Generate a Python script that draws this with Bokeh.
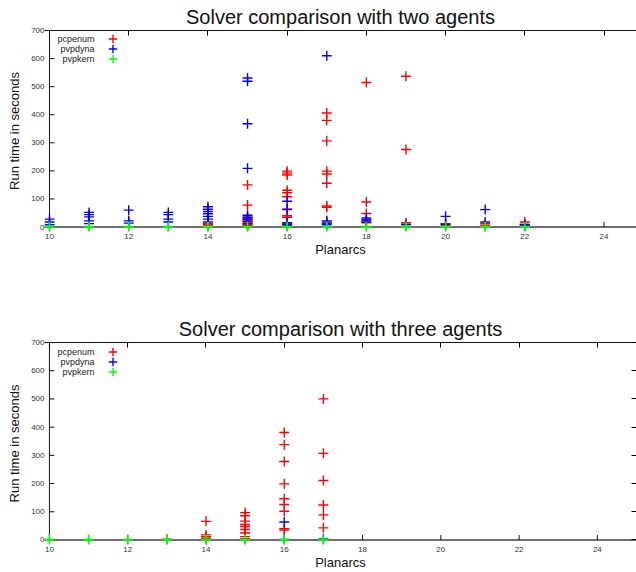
import math

from bokeh.embed import file_html
from bokeh.layouts import column
from bokeh.models import (CustomJSTickFormatter, FixedTicker, Label, Legend,
                          LegendItem, LinearAxis, Range1d, Span)
from bokeh.plotting import figure
from bokeh.resources import INLINE

FONT = "Liberation Sans"

# Planarcs tick positions and run-time ticks
x_ticks = [10, 12, 14, 16, 18, 20, 22, 24]
y_ticks = [0, 100, 200, 300, 400, 500, 600, 700]
X_MIN = 10

# ---- two agents -------------------------------------------------------
two_pcpenum_x = [14, 14, 14,
                 15, 15, 15, 15, 15, 15, 15, 15, 15, 15, 15,
                 16, 16, 16, 16, 16, 16, 16, 16, 16, 16, 16,
                 17, 17, 17, 17, 17, 17, 17, 17, 17, 17,
                 18, 18, 18, 18, 18,
                 19, 19, 19, 19,
                 20, 20,
                 21, 21,
                 22, 22, 22]
two_pcpenum_y = [12, 8, 4,
                 150, 78, 35, 30, 26, 22, 18, 14, 10, 6, 3,
                 199, 192, 185, 131, 122, 108, 64, 40, 35, 12, 5,
                 406, 380, 307, 199, 189, 156, 75, 70, 18, 12,
                 515, 89, 48, 22, 15,
                 537, 276, 15, 10,
                 12, 6,
                 12, 6,
                 18, 10, 5]

two_pvpdyna_x = [10, 10, 10,
                 11, 11, 11, 11, 11,
                 12, 12, 12,
                 13, 13, 13, 13,
                 14, 14, 14, 14, 14, 14, 14,
                 15, 15, 15, 15, 15, 15, 15, 15, 15,
                 16, 16, 16, 16,
                 17, 17, 17, 17,
                 18, 18, 18,
                 19,
                 20, 20,
                 21, 21,
                 22, 22]
two_pvpdyna_y = [28, 18, 8,
                 52, 44, 36, 22, 12,
                 60, 22, 14,
                 52, 44, 28, 18,
                 72, 63, 55, 47, 38, 28, 18,
                 531, 519, 368, 209, 42, 35, 28, 20, 12,
                 92, 62, 15, 8,
                 610, 22, 14, 8,
                 32, 26, 18,
                 8,
                 38, 10,
                 62, 18,
                 8, 4]

two_pvpkern_x = [10, 10, 11, 11, 12, 12, 13, 13, 14, 14, 15, 15, 16, 16,
                 17, 17, 18, 18, 19, 19, 20, 20, 21, 21, 22, 22]
two_pvpkern_y = [0, 2, 0, 2, 0, 2, 0, 2, 0, 2, 0, 2, 0, 2,
                 0, 2, 0, 2, 0, 2, 0, 2, 0, 2, 0, 2]

# ---- three agents -----------------------------------------------------
three_pcpenum_x = [13,
                   14, 14, 14, 14, 14,
                   15, 15, 15, 15, 15, 15, 15, 15, 15,
                   16, 16, 16, 16, 16, 16, 16, 16, 16,
                   17, 17, 17, 17, 17, 17]
three_pcpenum_y = [3,
                   66, 18, 12, 6, 2,
                   97, 86, 67, 55, 48, 37, 25, 12, 5,
                   381, 338, 278, 199, 146, 126, 102, 40, 35,
                   500, 307, 211, 124, 89, 43]

three_pvpdyna_x = [16, 16, 17]
three_pvpdyna_y = [64, 2, 4]

three_pvpkern_x = [10, 10, 11, 11, 12, 12, 13, 13, 14, 14, 15, 15,
                   16, 16, 17, 17]
three_pvpkern_y = [0, 2, 0, 2, 0, 2, 0, 2, 0, 2, 0, 2,
                   0, 2, 0, 2]

series_names = ["pcpenum", "pvpdyna", "pvpkern"]
series_colors = ["#ff0000", "#0000ff", "#00ff00"]

FRAME_H = 202
PAD = 5  # pixels of room left of x=10 so edge points are not cut off


def make_panel(title, xs_list, ys_list, x_start, x_end, border_left, border_top,
               border_bottom, right_ticks):
    p = figure(width=636, height=286,
               x_range=Range1d(x_start, x_end), y_range=Range1d(-16, 700),
               output_backend="svg", toolbar_location=None,
               x_axis_location=None, y_axis_location=None,
               min_border_left=border_left, min_border_right=0,
               min_border_top=border_top, min_border_bottom=border_bottom)
    p.outline_line_color = None
    p.xgrid.visible = False
    p.ygrid.visible = False
    p.background_fill_color = "white"
    p.border_fill_color = "white"

    p.title.text = title
    p.title.text_font = FONT
    p.title.text_font_size = "20px"
    p.title.text_font_style = "normal"
    p.title.text_color = "#111111"
    p.title.align = "center"
    p.title.standoff = 6

    # zero line that doubles as the bottom border
    p.add_layout(Span(location=0, dimension="width", line_color="#6e6e6e",
                      line_width=2, level="underlay"))
    # left border at x = 10, drawn from the zero line upwards
    p.ray(x=[X_MIN], y=[0], length=0, angle=math.pi / 2,
          line_color="#111111", line_width=1)
    # inward tick marks on the left border and above the zero line
    p.ray(x=[X_MIN] * len(y_ticks), y=y_ticks, length=5, length_units="screen",
          angle=0, line_color="#111111", line_width=1)
    p.ray(x=x_ticks, y=[0] * len(x_ticks), length=5, length_units="screen",
          angle=math.pi / 2, line_color="#111111", line_width=1)

    xaxis = LinearAxis(ticker=FixedTicker(ticks=x_ticks), axis_label="Planarcs")
    xaxis.axis_line_color = None
    xaxis.major_tick_in = 0
    xaxis.major_tick_out = 0
    xaxis.minor_tick_in = 0
    xaxis.minor_tick_out = 0
    xaxis.major_label_text_font = FONT
    xaxis.major_label_text_font_size = "8px"
    xaxis.major_label_text_color = "#333333"
    xaxis.major_label_standoff = 2
    xaxis.axis_label_text_font = FONT
    xaxis.axis_label_text_font_size = "13px"
    xaxis.axis_label_text_font_style = "normal"
    xaxis.axis_label_text_color = "#111111"
    xaxis.axis_label_standoff = 0
    p.add_layout(xaxis, "below")

    yaxis = LinearAxis(ticker=FixedTicker(ticks=y_ticks),
                       axis_label="Run time in seconds")
    yaxis.axis_line_color = None
    yaxis.major_tick_in = 0
    yaxis.major_tick_out = 0
    yaxis.minor_tick_in = 0
    yaxis.minor_tick_out = 0
    yaxis.major_label_text_font = FONT
    yaxis.major_label_text_font_size = "8px"
    yaxis.major_label_text_color = "#333333"
    yaxis.major_label_standoff = 0
    yaxis.axis_label_text_font = FONT
    yaxis.axis_label_text_font_size = "13px"
    yaxis.axis_label_text_font_style = "normal"
    yaxis.axis_label_text_color = "#111111"
    yaxis.axis_label_standoff = 6
    p.add_layout(yaxis, "left")

    blank = CustomJSTickFormatter(code="return ''")
    top = LinearAxis(ticker=FixedTicker(ticks=x_ticks), formatter=blank)
    top.axis_line_color = "#111111"
    top.major_tick_in = 5
    top.major_tick_out = 0
    top.minor_tick_in = 0
    top.minor_tick_out = 0
    top.major_label_standoff = 0
    top.major_label_text_font_size = "1px"
    p.add_layout(top, "above")

    if right_ticks:
        right = LinearAxis(ticker=FixedTicker(ticks=y_ticks), formatter=blank)
        right.axis_line_color = "#111111"
        right.major_tick_in = 5
        right.major_tick_out = 0
        right.minor_tick_in = 0
        right.minor_tick_out = 0
        right.major_label_standoff = 0
        right.major_label_text_font_size = "1px"
        p.add_layout(right, "right")

    renderers = []
    for xs, ys, color in zip(xs_list, ys_list, series_colors):
        r = p.scatter(xs, ys, marker="cross", size=10, line_color=color,
                      line_width=1.4)
        renderers.append(r)

    # key: names on the left, a marker symbol to the right of each name
    for i, (name, r) in enumerate(zip(series_names, renderers)):
        key = Legend(items=[LegendItem(label="", renderers=[r])],
                     location=(53 + PAD, FRAME_H - 20 - 10 * i),
                     glyph_width=21, glyph_height=21, label_height=10,
                     label_width=1, label_standoff=0,
                     padding=0, margin=0, spacing=0,
                     border_line_color=None, background_fill_alpha=0)
        p.add_layout(key, "center")
        p.add_layout(Label(x=45 + PAD, y=FRAME_H - 9 - 10 * i,
                           x_units="screen", y_units="screen",
                           text=name, text_align="right", text_baseline="middle",
                           text_font=FONT, text_font_size="9px",
                           text_color="#222222"))
    return p


UNIT = 39.6  # pixels per planarc
top_panel = make_panel("Solver comparison with two agents",
                       [two_pcpenum_x, two_pvpdyna_x, two_pvpkern_x],
                       [two_pcpenum_y, two_pvpdyna_y, two_pvpkern_y],
                       X_MIN - PAD / UNIT, 24.82, 49 - PAD, 29, 55, False)
bottom_panel = make_panel("Solver comparison with three agents",
                          [three_pcpenum_x, three_pvpdyna_x, three_pvpkern_x],
                          [three_pcpenum_y, three_pvpdyna_y, three_pvpkern_y],
                          X_MIN - PAD / UNIT, 25, 42 - PAD, 56, 28, True)

layout = column(top_panel, bottom_panel, spacing=0)
open("out.html", "w").write(file_html(layout, INLINE))
